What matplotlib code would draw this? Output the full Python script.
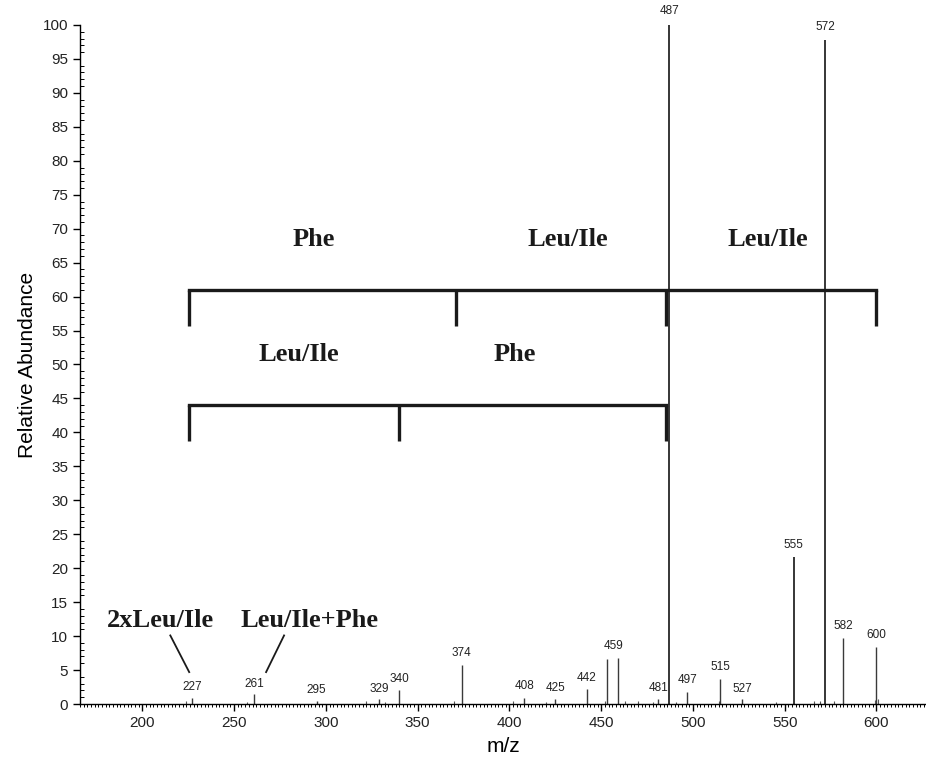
import matplotlib.pyplot as plt
from matplotlib.ticker import MultipleLocator

# peak list (m/z, relative abundance)
mz = [227, 261, 295, 329, 340, 374, 408, 425, 442, 453, 459, 481, 487,
      497, 515, 527, 555, 572, 582, 600]
abund = [0.9, 1.5, 0.5, 0.8, 2.0, 5.7, 0.9, 0.8, 2.2, 6.6, 6.8, 0.8, 100,
         1.8, 3.7, 0.7, 21.7, 97.8, 9.7, 8.4]
labeled = [227, 261, 295, 329, 340, 374, 408, 425, 442, 459, 481, 487,
           497, 515, 527, 555, 572, 582, 600]
label_y = [1.6, 2.1, 1.2, 1.4, 2.8, 6.6, 1.7, 1.5, 3.0, 7.7, 1.5, 101.2,
           2.7, 4.6, 1.4, 22.6, 98.8, 10.6, 9.3]
label_x = [227, 261, 295, 329, 340, 374, 408, 425, 442, 456.5, 481, 487,
           497, 515, 527, 555, 572, 582, 600]

# small unlabeled noise peaks
noise_mz = [224, 257, 322, 332, 370, 402, 420, 452, 463, 470, 478, 491,
            514, 545, 566, 569, 577, 599, 601]
noise_ab = [0.4, 0.3, 0.4, 0.3, 0.4, 0.4, 0.3, 0.4, 0.5, 0.4, 0.3, 0.3,
            0.4, 0.3, 0.4, 0.5, 0.4, 0.6, 0.7]

# sequence ladders: tick positions and residue labels
upper_x = [225.5, 371, 485.5, 600]
upper_lab = ['Phe', 'Leu/Ile', 'Leu/Ile']
upper_lab_x = [293.5, 432, 541]
lower_x = [225.5, 340, 485.5]
lower_lab = ['Leu/Ile', 'Phe']
lower_lab_x = [285, 403]

# fragment annotations
frag_lab = ['2xLeu/Ile', 'Leu/Ile+Phe']
frag_lab_x = [210, 291]
frag_line_x = [(215.2, 225.5), (277.2, 267.4)]

fig = plt.figure(figsize=(9.26, 7.63), dpi=100)
ax = fig.add_axes([0.0864, 0.0773, 0.9136, 0.8900])

big = [487, 572, 555]
for m, a in zip(mz, abund):
    ax.vlines(m, 0, a, color='black' if m in big else '#3a3a3a',
              lw=1.1 if m in big else 1.0)
ax.vlines(noise_mz, 0, noise_ab, color='#555555', lw=0.8)

for x, y, m in zip(label_x, label_y, labeled):
    ax.text(x, y, str(m), ha='center', va='bottom', fontsize=8.5,
            family='Liberation Sans', color='#222222')

serif = dict(family='Liberation Serif', fontweight='bold', fontsize=19,
             color='#1a1a1a', ha='center', va='center')
ink = '#1a1a1a'

# upper ladder
ax.plot([upper_x[0], upper_x[-1]], [61, 61], color=ink, lw=2.4,
        solid_capstyle='projecting')
for x in upper_x:
    ax.plot([x, x], [55.6, 61], color=ink, lw=2.4, solid_capstyle='butt')
for x, lab in zip(upper_lab_x, upper_lab):
    ax.text(x, 68.4, lab, **serif)

# lower ladder
ax.plot([lower_x[0], lower_x[-1]], [44.1, 44.1], color=ink, lw=2.4,
        solid_capstyle='projecting')
for x in lower_x:
    ax.plot([x, x], [38.8, 44.1], color=ink, lw=2.4, solid_capstyle='butt')
for x, lab in zip(lower_lab_x, lower_lab):
    ax.text(x, 51.5, lab, **serif)

for x, lab, (x0, x1) in zip(frag_lab_x, frag_lab, frag_line_x):
    ax.text(x, 12.3, lab, **serif)
    ax.plot([x0, x1], [10.1, 4.7], color=ink, lw=1.3)

ax.set_xlim(166, 627)
ax.set_ylim(0, 100)
ax.spines['top'].set_visible(False)
ax.spines['right'].set_visible(False)
ax.spines['left'].set_linewidth(1.0)
ax.spines['bottom'].set_linewidth(1.0)

ax.xaxis.set_major_locator(MultipleLocator(50))
ax.xaxis.set_minor_locator(MultipleLocator(2))
ax.yaxis.set_major_locator(MultipleLocator(5))
ax.yaxis.set_minor_locator(MultipleLocator(1))
ax.tick_params(axis='x', which='major', direction='out', length=5, width=1)
ax.tick_params(axis='x', which='minor', direction='out', length=2.5, width=0.7)
ax.tick_params(axis='y', which='major', direction='out', length=5, width=1)
ax.tick_params(axis='y', which='minor', direction='in', length=3, width=0.7)
for lbl in ax.get_xticklabels() + ax.get_yticklabels():
    lbl.set_family('Liberation Sans')
    lbl.set_fontsize(11)
    lbl.set_color('#222222')

ax.set_xlabel('m/z', family='Liberation Sans', fontsize=15, labelpad=5)
ax.set_ylabel('Relative Abundance', family='Liberation Sans', fontsize=15,
              labelpad=4)

fig.savefig('out.png', dpi=100)
